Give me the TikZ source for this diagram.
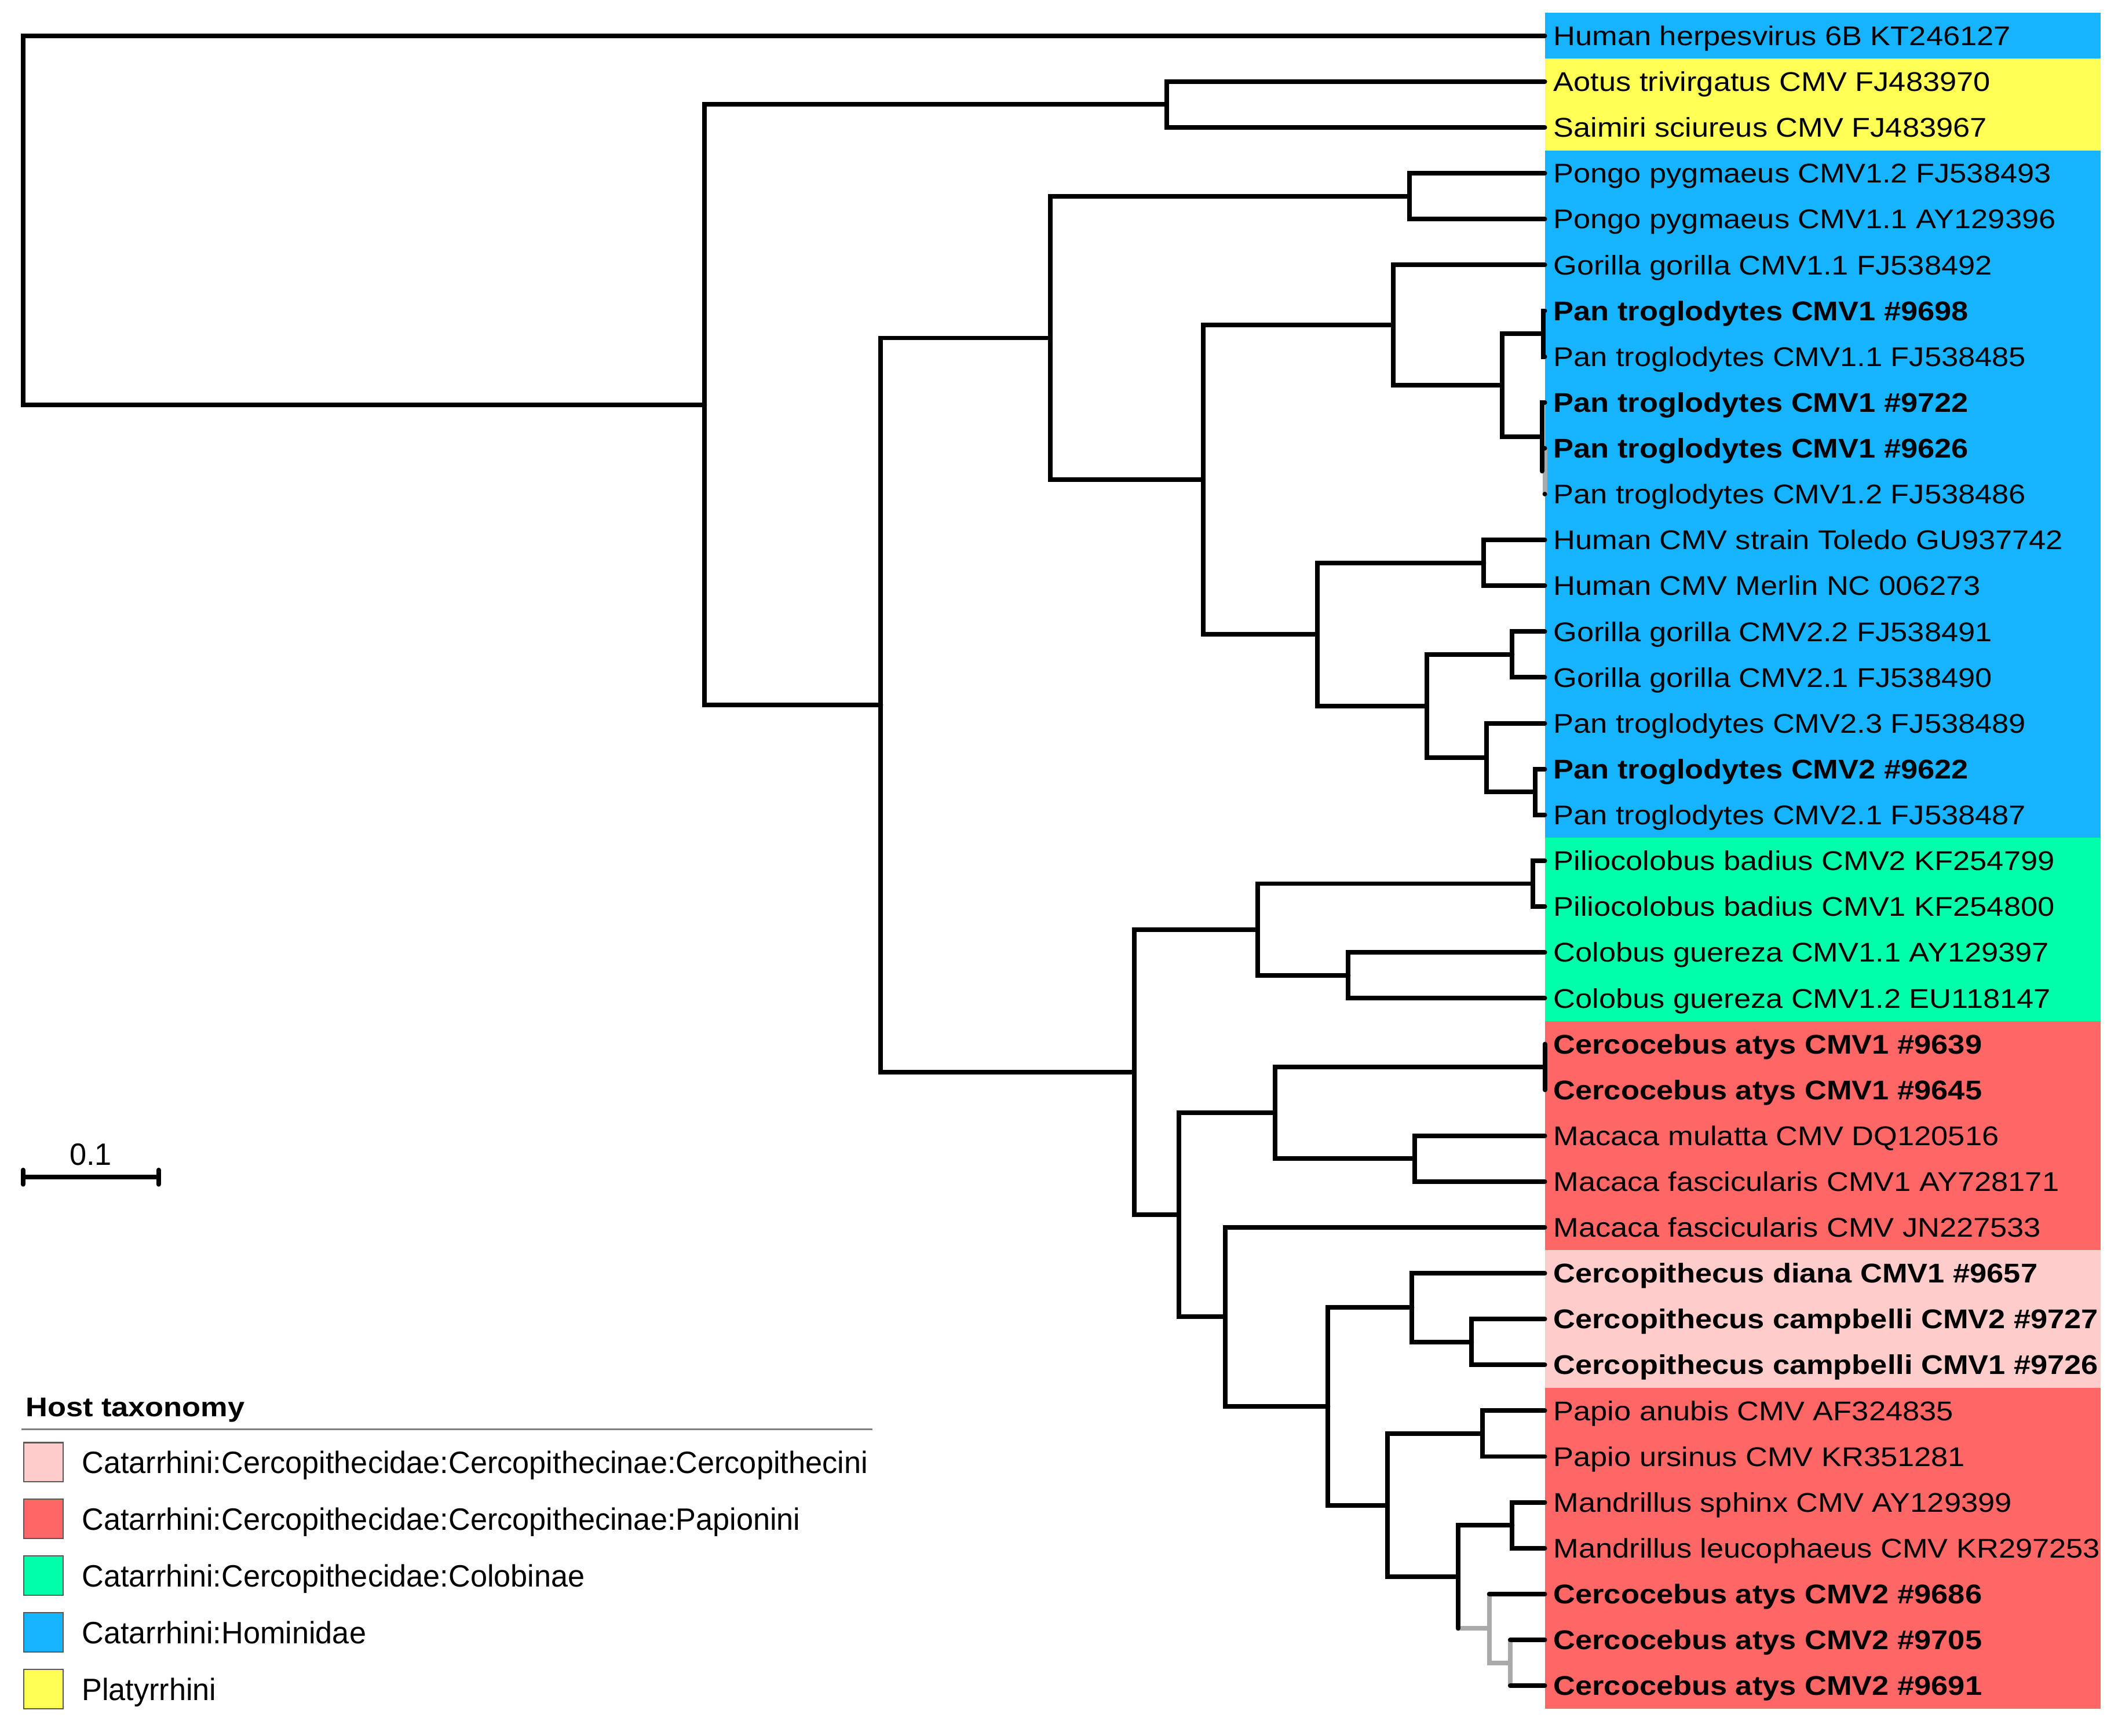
\documentclass[tikz,border=0pt]{standalone}
\usepackage{fontspec}
\setmainfont{Liberation Sans}
\newfontfamily\labfont[FakeStretch=1.12]{Liberation Sans}
\newfontfamily\legfont[FakeStretch=0.98]{Liberation Sans}
\definecolor{hom}{RGB}{22,180,255}
\definecolor{pla}{RGB}{255,255,85}
\definecolor{colb}{RGB}{0,255,170}
\definecolor{pap}{RGB}{255,102,102}
\definecolor{cerc}{RGB}{255,204,204}
\definecolor{lowsup}{RGB}{170,170,170}
\newcommand{\ry}[1]{26.4+33.825*(#1)}
\begin{document}
\begin{tikzpicture}[x=0.5pt,y=-0.5pt,
  br/.style={line width=1.7pt,line cap=round,line join=miter,black},
  gbr/.style={line width=1.7pt,line cap=round,line join=miter,lowsup},
  lab/.style={inner sep=0pt,font=\labfont\fontsize{10pt}{12pt}\selectfont},
  legtext/.style={inner sep=0pt,font=\legfont\fontsize{11.4pt}{13pt}\selectfont},
  legsq/.style={draw=black!65,line width=0.5pt,minimum size=14.5pt,inner sep=0pt}]
\useasboundingbox (0,0) rectangle (1563,1281);
% background bands
\fill[hom]  (1140,{\ry{-0.5}}) rectangle (1550,{\ry{0.5}});
\fill[pla]  (1140,{\ry{0.5}})  rectangle (1550,{\ry{2.5}});
\fill[hom]  (1140,{\ry{2.5}})  rectangle (1550,{\ry{17.5}});
\fill[colb] (1140,{\ry{17.5}}) rectangle (1550,{\ry{21.5}});
\fill[pap]  (1140,{\ry{21.5}}) rectangle (1550,{\ry{26.5}});
\fill[cerc] (1140,{\ry{26.5}}) rectangle (1550,{\ry{29.5}});
\fill[pap]  (1140,{\ry{29.5}}) rectangle (1550,{\ry{36.5}});
% leaves
\foreach \i in {1,...,37} \coordinate (l\i) at (1140,{\ry{\i-1}});
% internal nodes
\coordinate (root) at (17,{\ry{4.026}});
\coordinate (nA) at (520,{\ry{8.052}});
\coordinate (nPlat) at (861,{\ry{1.5}});
\coordinate (nB) at (650,{\ry{14.604}});
\coordinate (nHom) at (775,{\ry{6.594}});
\coordinate (nPongo) at (1040,{\ry{3.5}});
\coordinate (nC) at (888,{\ry{9.6875}});
\coordinate (nCMV1) at (1028,{\ry{6.3125}});
\coordinate (nD) at (1108.5,{\ry{7.625}});
\coordinate (nPanA) at (1139,{\ry{6.5}});
\coordinate (nE) at (1138,{\ry{8.75}});
\coordinate (nF) at (1140,{\ry{9.5}});
\coordinate (nG) at (972,{\ry{13.0625}});
\coordinate (nH) at (1095,{\ry{11.5}});
\coordinate (nI) at (1053,{\ry{14.625}});
\coordinate (nJ) at (1116,{\ry{13.5}});
\coordinate (nK) at (1097,{\ry{15.75}});
\coordinate (nL) at (1133,{\ry{16.5}});
\coordinate (nM) at (837,{\ry{22.613}});
\coordinate (nN) at (928,{\ry{19.5}});
\coordinate (nPil) at (1131,{\ry{18.5}});
\coordinate (nCol) at (995,{\ry{20.5}});
\coordinate (nO) at (870,{\ry{25.727}});
\coordinate (nP) at (941,{\ry{23.5}});
\coordinate (nCer1) at (1140,{\ry{22.5}});
\coordinate (nMac) at (1044,{\ry{24.5}});
\coordinate (nQ) at (904,{\ry{27.953}});
\coordinate (nR) at (980,{\ry{29.906}});
\coordinate (nS) at (1042,{\ry{27.75}});
\coordinate (nU) at (1086,{\ry{28.5}});
\coordinate (nT) at (1024,{\ry{32.0625}});
\coordinate (nV) at (1094,{\ry{30.5}});
\coordinate (nW) at (1076,{\ry{33.625}});
\coordinate (nX) at (1116,{\ry{32.5}});
\coordinate (nY) at (1099,{\ry{34.75}});
\coordinate (nZ) at (1114.5,{\ry{35.5}});
% low-support branches (grey)
\draw[gbr] (nE|-nF) -- (nF);
\draw[gbr] (nF|-l10) -- (nF|-l11);
\draw[gbr] (nW|-nY) -- (nY);
\draw[gbr] (nY|-l35) -- (nY|-nZ) -- (nZ);
\draw[gbr] (nZ|-l36) -- (nZ|-l37);
% black branches
\draw[br] (root) |- (l1);  \draw[br] (root) |- (nA);
\draw[br] (nA) |- (nPlat); \draw[br] (nA) |- (nB);
\draw[br] (nPlat) |- (l2); \draw[br] (nPlat) |- (l3);
\draw[br] (nB) |- (nHom);  \draw[br] (nB) |- (nM);
\draw[br] (nHom) |- (nPongo); \draw[br] (nHom) |- (nC);
\draw[br] (nPongo) |- (l4); \draw[br] (nPongo) |- (l5);
\draw[br] (nC) |- (nCMV1); \draw[br] (nC) |- (nG);
\draw[br] (nCMV1) |- (l6); \draw[br] (nCMV1) |- (nD);
\draw[br] (nD) |- (nPanA); \draw[br] (nD) |- (nE);
\draw[br] (nPanA) |- (l7); \draw[br] (nPanA) |- (l8);
\draw[br] (nE) |- (l9);    \draw[br] (nE) -- (nE|-nF);
\draw[br] (nF|-l10) -- (l10); \draw[br] (nF|-l11) -- (l11);
\draw[br] (nG) |- (nH);    \draw[br] (nG) |- (nI);
\draw[br] (nH) |- (l12);   \draw[br] (nH) |- (l13);
\draw[br] (nI) |- (nJ);    \draw[br] (nI) |- (nK);
\draw[br] (nJ) |- (l14);   \draw[br] (nJ) |- (l15);
\draw[br] (nK) |- (l16);   \draw[br] (nK) |- (nL);
\draw[br] (nL) |- (l17);   \draw[br] (nL) |- (l18);
\draw[br] (nM) |- (nN);    \draw[br] (nM) |- (nO);
\draw[br] (nN) |- (nPil);  \draw[br] (nN) |- (nCol);
\draw[br] (nPil) |- (l19); \draw[br] (nPil) |- (l20);
\draw[br] (nCol) |- (l21); \draw[br] (nCol) |- (l22);
\draw[br] (nO) |- (nP);    \draw[br] (nO) |- (nQ);
\draw[br] (nP) |- (nCer1); \draw[br] (nP) |- (nMac);
\draw[br] (nCer1) |- (l23); \draw[br] (nCer1) |- (l24);
\draw[br] (nMac) |- (l25); \draw[br] (nMac) |- (l26);
\draw[br] (nQ) |- (l27);   \draw[br] (nQ) |- (nR);
\draw[br] (nR) |- (nS);    \draw[br] (nR) |- (nT);
\draw[br] (nS) |- (l28);   \draw[br] (nS) |- (nU);
\draw[br] (nU) |- (l29);   \draw[br] (nU) |- (l30);
\draw[br] (nT) |- (nV);    \draw[br] (nT) |- (nW);
\draw[br] (nV) |- (l31);   \draw[br] (nV) |- (l32);
\draw[br] (nW) |- (nX);    \draw[br] (nW) -- (nW|-nY);
\draw[br] (nX) |- (l33);   \draw[br] (nX) |- (l34);
\draw[br] (nY|-l35) -- (l35);
\draw[br] (nZ|-l36) -- (l36); \draw[br] (nZ|-l37) -- (l37);
% tip labels
\newcommand{\tiplab}[3]{\node[lab,anchor=base west] (t#1) at (1146,{\ry{#1-1}+7.15}) {#2#3};}
\tiplab{1}{}{Human herpesvirus 6B KT246127}
\tiplab{2}{}{Aotus trivirgatus CMV FJ483970}
\tiplab{3}{}{Saimiri sciureus CMV FJ483967}
\tiplab{4}{}{Pongo pygmaeus CMV1.2 FJ538493}
\tiplab{5}{}{Pongo pygmaeus CMV1.1 AY129396}
\tiplab{6}{}{Gorilla gorilla CMV1.1 FJ538492}
\tiplab{7}{\bfseries}{Pan troglodytes CMV1 \#9698}
\tiplab{8}{}{Pan troglodytes CMV1.1 FJ538485}
\tiplab{9}{\bfseries}{Pan troglodytes CMV1 \#9722}
\tiplab{10}{\bfseries}{Pan troglodytes CMV1 \#9626}
\tiplab{11}{}{Pan troglodytes CMV1.2 FJ538486}
\tiplab{12}{}{Human CMV strain Toledo GU937742}
\tiplab{13}{}{Human CMV Merlin NC 006273}
\tiplab{14}{}{Gorilla gorilla CMV2.2 FJ538491}
\tiplab{15}{}{Gorilla gorilla CMV2.1 FJ538490}
\tiplab{16}{}{Pan troglodytes CMV2.3 FJ538489}
\tiplab{17}{\bfseries}{Pan troglodytes CMV2 \#9622}
\tiplab{18}{}{Pan troglodytes CMV2.1 FJ538487}
\tiplab{19}{}{Piliocolobus badius CMV2 KF254799}
\tiplab{20}{}{Piliocolobus badius CMV1 KF254800}
\tiplab{21}{}{Colobus guereza CMV1.1 AY129397}
\tiplab{22}{}{Colobus guereza CMV1.2 EU118147}
\tiplab{23}{\bfseries}{Cercocebus atys CMV1 \#9639}
\tiplab{24}{\bfseries}{Cercocebus atys CMV1 \#9645}
\tiplab{25}{}{Macaca mulatta CMV DQ120516}
\tiplab{26}{}{Macaca fascicularis CMV1 AY728171}
\tiplab{27}{}{Macaca fascicularis CMV JN227533}
\tiplab{28}{\bfseries}{Cercopithecus diana CMV1 \#9657}
\tiplab{29}{\bfseries}{Cercopithecus campbelli CMV2 \#9727}
\tiplab{30}{\bfseries}{Cercopithecus campbelli CMV1 \#9726}
\tiplab{31}{}{Papio anubis CMV AF324835}
\tiplab{32}{}{Papio ursinus CMV KR351281}
\tiplab{33}{}{Mandrillus sphinx CMV AY129399}
\tiplab{34}{}{Mandrillus leucophaeus CMV KR297253}
\tiplab{35}{\bfseries}{Cercocebus atys CMV2 \#9686}
\tiplab{36}{\bfseries}{Cercocebus atys CMV2 \#9705}
\tiplab{37}{\bfseries}{Cercocebus atys CMV2 \#9691}
% scale bar
\coordinate (sb1) at (17,868.7);
\coordinate (sb2) at (117,868.7);
\draw[br] (sb1) -- (sb2);
\draw[br] ([yshift=2.6pt]sb1) -- ([yshift=-2.7pt]sb1);
\draw[br] ([yshift=2.6pt]sb2) -- ([yshift=-2.7pt]sb2);
\node[legtext,anchor=base] (sblab) at (67,859.8) {0.1};
% legend
\node[lab,anchor=base west] (legtitle) at (18.5,1045.3) {\bfseries Host taxonomy};
\coordinate (lg1) at (16,1055);
\coordinate (lg2) at (644,1055);
\draw[line width=0.6pt,black!50] (lg1) -- (lg2);
\node[legsq,fill=cerc] (s1) at (32,1079.2) {};
\node[legsq,fill=pap]  (s2) at (32,1121.0) {};
\node[legsq,fill=colb] (s3) at (32,1162.9) {};
\node[legsq,fill=hom]  (s4) at (32,1204.7) {};
\node[legsq,fill=pla]  (s5) at (32,1246.6) {};
\node[legtext,anchor=base west] (e1) at (60,1087.4) {Catarrhini:Cercopithecidae:Cercopithecinae:Cercopithecini};
\node[legtext,anchor=base west] (e2) at (60,1129.2) {Catarrhini:Cercopithecidae:Cercopithecinae:Papionini};
\node[legtext,anchor=base west] (e3) at (60,1171.1) {Catarrhini:Cercopithecidae:Colobinae};
\node[legtext,anchor=base west] (e4) at (60,1212.9) {Catarrhini:Hominidae};
\node[legtext,anchor=base west] (e5) at (60,1254.8) {Platyrrhini};
\end{tikzpicture}
\end{document}
